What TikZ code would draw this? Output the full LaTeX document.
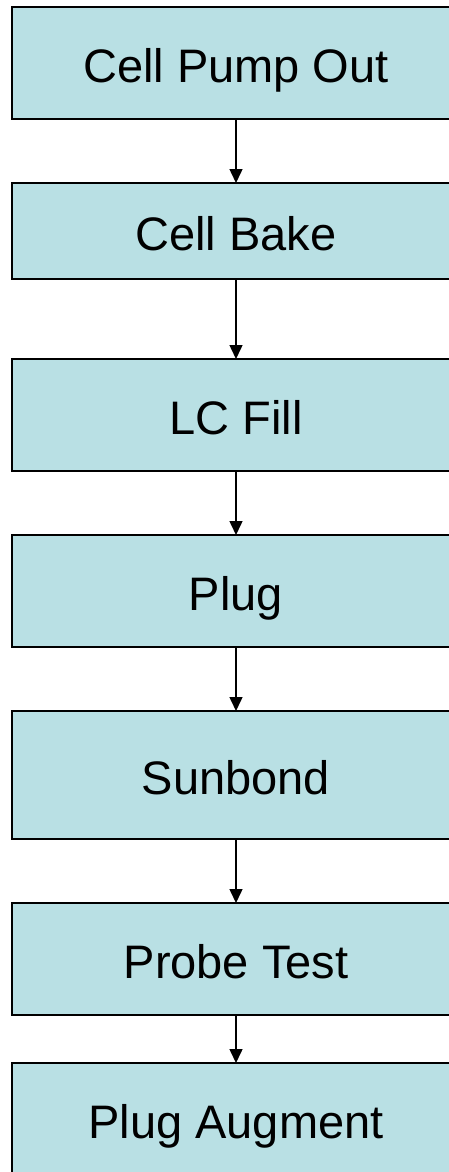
\documentclass[tikz,border=0pt]{standalone}
\usepackage{fontspec}
\setmainfont{Liberation Sans}
\usetikzlibrary{arrows.meta,positioning}

\definecolor{stagefill}{RGB}{185,224,228}

\begin{document}
\begin{tikzpicture}[x=1pt,y=1pt,node distance=64pt]
            \tikzstyle{stage} = [draw,fill=stagefill,line width=1.5pt,minimum width=448pt,font=\fontsize{47}{50}\selectfont,inner sep=0pt,outer sep=0pt,text height=38pt,text depth=0pt]
            \tikzstyle{edge} = [-{Triangle[width=13pt,length=14pt]},line width=1.5pt]

            \useasboundingbox (0,0) rectangle (449,-1172);

            \node[stage,minimum height=112pt,anchor=north] (pumpout) at (236,-7) {Cell Pump Out};
            \node[stage,minimum height=96pt] (bake) [below=of pumpout] {Cell Bake};
            \node[stage,minimum height=112pt] (lcfill) [below=80pt of bake] {LC Fill};
            \node[stage,minimum height=112pt] (plug) [below=of lcfill] {Plug};
            \node[stage,minimum height=128pt] (sunbond) [below=of plug] {Sunbond};
            \node[stage,minimum height=112pt] (probe) [below=of sunbond] {Probe Test};
            \node[stage,minimum height=112pt] (augment) [below=48pt of probe] {Plug Augment};

            \draw[edge] (pumpout) -- (bake);
            \draw[edge] (bake) -- (lcfill);
            \draw[edge] (lcfill) -- (plug);
            \draw[edge] (plug) -- (sunbond);
            \draw[edge] (sunbond) -- (probe);
            \draw[edge] (probe) -- (augment);
        \end{tikzpicture}
\end{document}
